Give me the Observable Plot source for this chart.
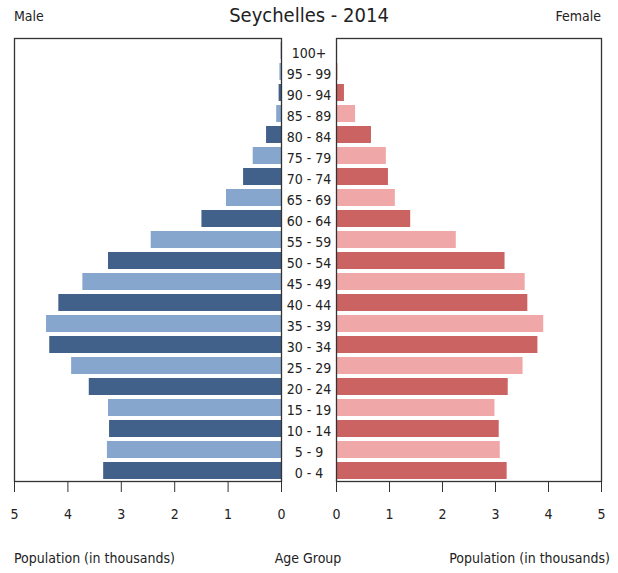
<!DOCTYPE html>
<html>
<head>
<meta charset="utf-8">
<script src="https://cdn.jsdelivr.net/npm/d3@7"></script>
<script src="https://cdn.jsdelivr.net/npm/@observablehq/plot@0.6"></script>
<style>
  html, body { margin: 0; padding: 0; background: #fff; }
  #wrap { position: relative; width: 618px; height: 573px; font-family: "DejaVu Sans Condensed", "DejaVu Sans", sans-serif; font-stretch: condensed; color: #222; }
  #wrap svg { position: absolute; top: 0; overflow: visible; }
  .t { position: absolute; white-space: nowrap; font-size: 14px; }
</style>
</head>
<body>
<div id="wrap">
  <div class="t" style="left:14px;top:8px;font-size:14px;">Male</div>
  <div class="t" style="left:0;width:618px;text-align:center;top:3px;font-size:20px;">Seychelles - 2014</div>
  <div class="t" style="right:17px;top:8px;font-size:14px;">Female</div>
  <div class="t" style="left:14px;top:550px;">Population (in thousands)</div>
  <div class="t" style="left:0;width:616px;text-align:center;top:550px;">Age Group</div>
  <div class="t" style="right:8px;top:550px;">Population (in thousands)</div>
</div>
<script>
const ageGroups = ["0 - 4","5 - 9","10 - 14","15 - 19","20 - 24","25 - 29","30 - 34","35 - 39","40 - 44","45 - 49","50 - 54","55 - 59","60 - 64","65 - 69","70 - 74","75 - 79","80 - 84","85 - 89","90 - 94","95 - 99","100+"];
const male   = [3.33, 3.26, 3.22, 3.24, 3.60, 3.93, 4.34, 4.40, 4.17, 3.72, 3.24, 2.44, 1.49, 1.03, 0.71, 0.53, 0.28, 0.09, 0.045, 0.03, 0.005];
const female = [3.22, 3.09, 3.07, 2.99, 3.24, 3.52, 3.80, 3.91, 3.61, 3.56, 3.18, 2.26, 1.40, 1.11, 0.98, 0.94, 0.66, 0.36, 0.15, 0.03, 0.02];
const xTicks = [0, 1, 2, 3, 4, 5];
const maleColors = ["#41618a", "#87a6cd"];
const femaleColors = ["#cb6363", "#f0a7a8"];

const maleData = ageGroups.map((age, i) => ({age, value: male[i], shade: i % 2}));
const femaleData = ageGroups.map((age, i) => ({age, value: female[i], shade: i % 2}));
const yDomain = ageGroups.slice().reverse();
const H = 573;
const yScale = {domain: yDomain, paddingInner: 0.17, paddingOuter: 0, axis: null};
const style = {fontFamily: "'DejaVu Sans Condensed', 'DejaVu Sans', sans-serif", fontSize: "14px", fontStretch: "condensed", color: "#222", background: "transparent", overflow: "visible"};
const fmt = d3.format("d");

const left = Plot.plot({
  width: 309, height: H,
  marginLeft: 14, marginRight: 28, marginTop: 41, marginBottom: 92,
  style,
  x: {domain: [0, 5], reverse: true},
  y: yScale,
  color: {domain: [0, 1], range: maleColors},
  marks: [
    Plot.barX(maleData, {x: "value", y: "age", fill: d => d.shade}),
    Plot.frame({stroke: "#333", strokeWidth: 1.3, insetTop: -3}),
    Plot.axisX({ticks: xTicks, tickFormat: fmt, tickSize: 11, tickPadding: 17, label: null, stroke: "#333", fill: "#222", fontSize: 14})
  ]
});
left.style.left = "0px";

const right = Plot.plot({
  width: 337, height: H,
  marginLeft: 55, marginRight: 17, marginTop: 41, marginBottom: 92,
  style,
  x: {domain: [0, 5]},
  y: yScale,
  color: {domain: [0, 1], range: femaleColors},
  marks: [
    Plot.barX(femaleData, {x: "value", y: "age", fill: d => d.shade}),
    Plot.frame({stroke: "#333", strokeWidth: 1.3, insetTop: -3}),
    Plot.axisX({ticks: xTicks, tickFormat: fmt, tickSize: 11, tickPadding: 17, label: null, stroke: "#333", fill: "#222", fontSize: 14}),
    Plot.axisY({anchor: "left", tickSize: 0, tickPadding: 27.5, textAnchor: "middle", dy: 3, label: null, fill: "#222", fontSize: 14})
  ]
});
right.style.left = "281px";

const wrap = document.getElementById("wrap");
wrap.appendChild(left);
wrap.appendChild(right);
</script>
</body>
</html>
